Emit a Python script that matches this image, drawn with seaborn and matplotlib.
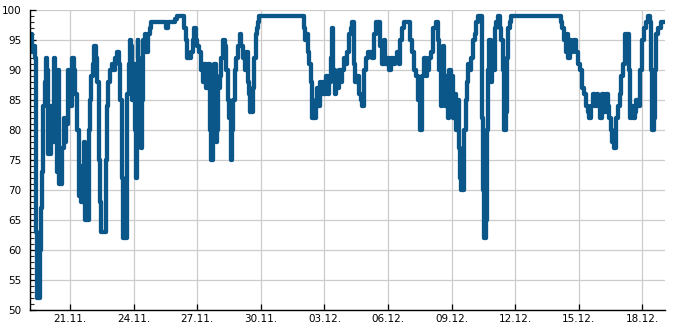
import numpy as np
import pandas as pd
import matplotlib
matplotlib.use("Agg")
import matplotlib.pyplot as plt
import matplotlib.dates as mdates
from matplotlib.ticker import MultipleLocator
import seaborn as sns

# hours since 2019-11-19 00:00 and humidity values (%)
hours = [1, 3, 5, 6, 7.3, 8.4, 9.5, 10, 10.6, 11.2, 12.5, 13.5, 14, 14.6, 15.2, 16.3, 17.4, 18.5, 20.2, 21.5,
         22.6, 23.7, 25, 26, 27, 28.2, 29.3, 30.4, 32, 33.5, 34.5, 35.5, 38, 40, 41.5, 42.5, 44.5, 46, 47.5, 49,
         51.4, 53, 55, 57.2, 58.5, 60, 61.6, 63.5, 64.5, 65.5, 68.4, 70, 71.2, 73, 74.5, 76.3, 77.5, 79, 81.5, 83,
         84.2, 87.5, 89, 90.5, 92, 94, 96, 98, 100, 102, 104, 106, 107.5, 109, 111.5, 112.5, 113.5, 115, 116.5, 118,
         119.3, 120.4, 121.6, 122.7, 124, 125, 126, 127.2, 128.4, 130, 131.8, 133.5, 135, 137, 139, 141, 145, 150, 155, 157.8,
         160, 165, 168, 170, 176, 178, 179.5, 181, 184, 186, 188, 189.5, 191, 193, 195, 197, 199, 201, 203, 205,
         207, 208.5, 210.5, 212, 213.5, 215, 216.5, 218, 220, 222, 224, 226, 227.5, 229, 230.5, 232, 233.5, 235.5, 237, 239,
         241, 243, 245, 246.5, 248, 250, 251.5, 252.5, 254.5, 256, 257.5, 258.5, 260, 261.5, 263, 311.8, 313.5, 315, 316.5, 318,
         320, 321.5, 323, 325.3, 327, 328.5, 330, 331.5, 333, 335, 337, 338.9, 340.5, 342.3, 343.5, 345, 346.5, 348.5, 350.5, 352,
         353.6, 355, 357, 359, 361, 363, 365, 367, 368.4, 370, 372, 374, 376, 378, 380, 382, 384, 386, 389, 391,
         393.5, 395.5, 398, 400, 402, 404, 406, 408.5, 410.5, 412.5, 414.5, 416.5, 419, 421, 423, 425, 427, 432, 434, 436.3,
         438.5, 441, 443, 445.5, 447.6, 449.5, 451.5, 453.5, 455.5, 457.8, 460.5, 463.4, 465, 466.8, 468, 469.5, 470.2, 471.5, 473, 475,
         476.5, 478.2, 479.5, 481, 482.5, 484.5, 486, 487.2, 488.5, 490, 491.7, 493.5, 495.1, 496.5, 498, 499.5, 501, 503, 505, 507,
         509, 511, 514, 515, 516, 517.8, 519, 520, 521.5, 523.4, 525, 526.5, 528, 529.5, 531.5, 534, 535.5, 537, 538.5, 540.5,
         542, 543.5, 545, 546.5, 548.5, 602.7, 604.5, 606, 608, 610, 611.5, 613, 614.5, 616, 618, 620, 622, 624, 626, 628,
         630.5, 633.2, 635, 637, 639, 641, 643, 645, 647, 649, 651.5, 653.5, 655.5, 657.5, 659.3, 661, 663, 665, 667, 669,
         671, 673, 675, 676.5, 678, 679.5, 681, 682.5, 684, 686, 688, 690, 692.5, 694.5, 696.6, 698.5, 700.5, 703, 705, 706.5,
         708, 709.5, 711, 712.5, 714, 716, 718, 721.5]
humidity = [96, 95, 96, 93, 94, 92, 80, 63, 57, 52, 54, 52, 55, 60, 67, 73, 80, 84, 88, 92,
            90, 76, 80, 76, 84, 80, 78, 92, 89, 73, 90, 71, 71, 77, 82, 78, 81, 90, 86, 84,
            92, 90, 86, 80, 69, 74, 68, 73, 78, 65, 65, 80, 85, 89, 91, 94, 92, 88, 75, 68,
            63, 63, 75, 84, 88, 90, 91, 90, 92, 93, 91, 85, 72, 62, 62, 75, 86, 91, 95, 94,
            85, 91, 80, 72, 84, 95, 92, 80, 77, 85, 95, 96, 93, 96, 97, 98, 98, 98, 98, 97,
            98, 98, 98.5, 99, 99, 97, 95, 92, 92, 93, 95, 97, 95, 94, 93, 90, 88, 91, 87, 91,
            80, 75, 84, 91, 78, 80, 87, 89, 92, 95, 94, 90, 85, 82, 75, 80, 85, 90, 92, 94,
            96, 94, 92, 90, 93, 88, 86, 83, 83, 87, 92, 96, 97, 98, 99, 99, 97, 95, 96, 93,
            91, 88, 82, 82, 85, 87, 84, 88, 86, 88, 86, 89, 86, 88, 92, 97, 90, 86, 88, 87,
            90, 88, 90, 92, 91, 93, 96, 97, 98, 91, 88, 89, 86, 85, 84, 90, 92, 93, 93, 92,
            96, 98, 98, 94, 91, 95, 91, 92, 90, 92, 91, 92, 93, 91, 95, 97, 98, 98, 95, 93,
            90, 89, 85, 80, 89, 92, 89, 90, 92, 93, 97, 98, 95, 90, 84, 93, 94, 86, 84, 89,
            82, 90, 84, 89, 82, 86, 80, 85, 77, 72, 70, 70, 80, 85, 88, 91, 90, 92, 95, 96,
            98, 99, 99, 82, 70, 62, 65, 80, 90, 95, 88, 92, 90, 97, 98, 99, 97, 95, 90, 80,
            83, 92, 97, 98, 99, 99, 98, 97, 95, 93, 96, 92, 95, 93, 94, 95, 93, 91, 90, 87,
            86, 84, 83, 82, 84, 86, 84, 86, 84, 82, 86, 83, 86, 84, 82, 80, 78, 77, 82, 84,
            86, 89, 91, 96, 92, 96, 90, 82, 84, 82, 83, 85, 84, 90, 95, 97, 98, 99, 98, 90,
            80, 82, 90, 96, 97, 97, 98, 98]

x_ticks = ["2019-11-21", "2019-11-24", "2019-11-27", "2019-11-30", "2019-12-03",
           "2019-12-06", "2019-12-09", "2019-12-12", "2019-12-15", "2019-12-18"]
y_ticks = [50, 55, 60, 65, 70, 75, 80, 85, 90, 95, 100]

base = pd.Timestamp("2019-11-19 00:00")
df = pd.DataFrame({"time": base + pd.to_timedelta(hours, unit="h"), "humidity": humidity})

sns.set_style("white")
plt.rcParams["font.family"] = ["DejaVu Sans"]

fig = plt.figure(figsize=(6.85, 3.3), dpi=100)
ax = fig.add_axes([30 / 685, 20 / 330, 635 / 685, 300 / 330])

sns.lineplot(data=df, x="time", y="humidity", ax=ax, color="#0b5789", linewidth=3.1,
             estimator=None, sort=False, drawstyle="steps-mid")

ax.set_xlim(base + pd.Timedelta(hours=2.7), base + pd.Timedelta(hours=721.5))
ax.set_ylim(50, 100)
ax.set_xticks(pd.to_datetime(x_ticks))
ax.xaxis.set_major_formatter(mdates.DateFormatter("%d.%m."))
ax.set_yticks(y_ticks)
ax.yaxis.set_minor_locator(MultipleLocator(1))

ax.grid(True, which="major", color="#cccccc", linewidth=0.9)
ax.set_axisbelow(True)
for s in ["top", "right"]:
    ax.spines[s].set_visible(False)
for s in ["left", "bottom"]:
    ax.spines[s].set_color("black")
    ax.spines[s].set_linewidth(1.0)

ax.tick_params(axis="y", which="major", direction="in", length=4.5, width=0.9, labelsize=7.5,
               pad=6, colors="black", left=True)
ax.tick_params(axis="y", which="minor", direction="in", length=3, width=0.8, left=True)
ax.tick_params(axis="x", which="major", direction="in", length=4, width=0.9, labelsize=7.5,
               pad=3, colors="black", bottom=True)
ax.set_xlabel("")
ax.set_ylabel("")

fig.savefig("out.png", dpi=100)
